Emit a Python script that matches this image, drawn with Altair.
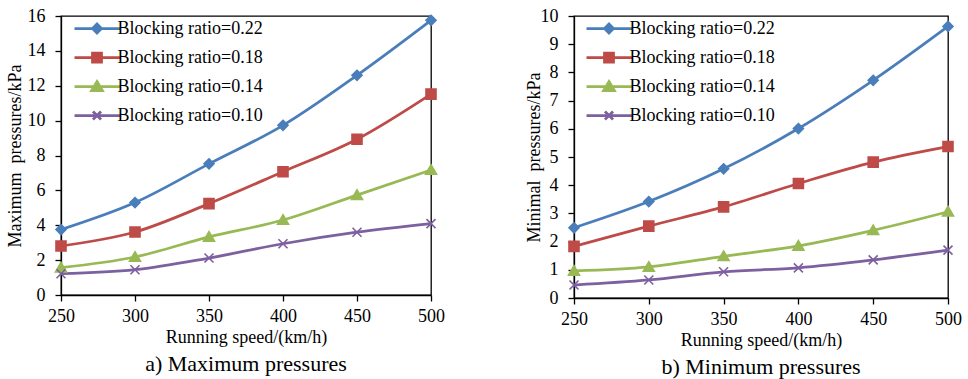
import altair as alt
import pandas as pd

speeds = [250, 300, 350, 400, 450, 500]
series = ["Blocking ratio=0.22", "Blocking ratio=0.18", "Blocking ratio=0.14", "Blocking ratio=0.10"]
colors = ["#4A7EBB", "#BE4B48", "#98B954", "#7D60A0"]

max_022 = [3.75, 5.30, 7.52, 9.73, 12.60, 15.75]
max_018 = [2.81, 3.61, 5.24, 7.07, 8.93, 11.52]
max_014 = [1.57, 2.18, 3.33, 4.30, 5.73, 7.17]
max_010 = [1.22, 1.45, 2.12, 2.94, 3.60, 4.09]

min_022 = [2.49, 3.42, 4.58, 6.01, 7.72, 9.63]
min_018 = [1.83, 2.55, 3.23, 4.06, 4.82, 5.37]
min_014 = [0.96, 1.10, 1.48, 1.85, 2.40, 3.06]
min_010 = [0.46, 0.64, 0.93, 1.07, 1.35, 1.70]

FONT = "Liberation Serif, Times New Roman, serif"

# marker shapes in the plot
plot_shapes = [
    "M0,-1L1,0L0,1L-1,0Z",
    "M-1,-1L1,-1L1,1L-1,1Z",
    "M0,-1.05L1.1,0.85L-1.1,0.85Z",
    "M-0.9,-0.9L0.9,0.9M-0.9,0.9L0.9,-0.9",
]
# legend symbols (unit = 9 px): a line with the marker in the middle
legend_shapes = [
    "M-2.5,0L2.55,0M0,-0.5L0.5,0L0,0.5L-0.5,0Z",
    "M-2.5,0L2.55,0M-0.5,-0.5L0.5,-0.5L0.5,0.5L-0.5,0.5Z",
    "M-2.5,0L2.55,0M0,-0.55L0.6,0.45L-0.6,0.45Z",
    "M-2.5,0L2.55,0M-0.45,-0.45L0.45,0.45M-0.45,0.45L0.45,-0.45",
]


def panel(values_list, ytitle, ymax, ystep, caption, title_x, legend_x, w, h):
    rows = []
    for name, vals in zip(series, values_list):
        for s, v in zip(speeds, vals):
            rows.append({"speed": s, "value": v, "series": name})
    df = pd.DataFrame(rows)
    base = alt.Chart(df)
    x = alt.X(
        "speed:Q",
        scale=alt.Scale(domain=[250, 500], nice=False, zero=False),
        axis=alt.Axis(values=speeds, title="Running speed/(km/h)", labelPadding=6,
                      titleY=33, format="d", labelFlush=False),
    )
    y = alt.Y(
        "value:Q",
        scale=alt.Scale(domain=[0, ymax], nice=False),
        axis=alt.Axis(values=list(range(0, ymax + 1, ystep)), title=ytitle,
                      titleX=title_x, labelPadding=10, labelFlush=False),
    )
    cscale = alt.Scale(domain=series, range=colors)
    lines = base.mark_line(interpolate="monotone", strokeWidth=2.75).encode(
        x=x, y=y, color=alt.Color("series:N", scale=cscale, legend=None),
        detail="series:N",
    )
    points = base.mark_point(filled=True, size=100, opacity=1, strokeWidth=1.6).encode(
        x=x, y=y,
        color=alt.Color("series:N", scale=cscale, legend=None),
        stroke=alt.Stroke("series:N", scale=cscale, legend=None),
        shape=alt.Shape("series:N", scale=alt.Scale(domain=series, range=plot_shapes), legend=None),
    )
    leg = base.transform_filter("false").mark_point(filled=True, opacity=1, strokeWidth=2.75).encode(
        x=x, y=y,
        color=alt.Color("series:N", scale=cscale,
                        legend=alt.Legend(title=None, orient="none", legendX=legend_x, legendY=2,
                                          symbolSize=324, symbolStrokeWidth=2.75)),
        stroke=alt.Stroke("series:N", scale=cscale),
        shape=alt.Shape("series:N", scale=alt.Scale(domain=series, range=legend_shapes)),
    )
    return alt.layer(lines, points, leg).resolve_scale(
        color="independent", stroke="independent", shape="independent"
    ).properties(
        width=w, height=h,
        title=alt.TitleParams(caption, orient="bottom", anchor="middle", font=FONT,
                              fontSize=22, fontWeight="normal", color="black", offset=8),
    )


left = panel([max_022, max_018, max_014, max_010], "Maximum\u00a0 pressures/kPa",
             16, 2, "a) Maximum pressures", -37, 12, 370, 279)
right = panel([min_022, min_018, min_014, min_010], "Minimal\u00a0 pressures/kPa",
              10, 1, "b) Minimum pressures", -31, 11, 374, 282)

chart = alt.hconcat(left, right, spacing=143, bounds="flush").resolve_scale(
    color="independent", stroke="independent", shape="independent"
).configure(
    padding={"left": 5, "top": 6, "right": 5, "bottom": 0},
    font=FONT,
    background="white",
).configure_view(
    stroke="black", strokeWidth=1.3
).configure_axis(
    grid=False,
    domainColor="black", domainWidth=1.3,
    tickColor="black", tickWidth=1.3, tickSize=6,
    labelColor="black", labelFont=FONT, labelFontSize=18,
    titleColor="black", titleFont=FONT, titleFontSize=18, titleFontWeight="normal",
).configure_legend(
    labelFont=FONT, labelFontSize=18, labelColor="black", padding=0,
    rowPadding=8, labelOffset=10, symbolOffset=13.5,
)

chart.save("out.html", embed_options={"renderer": "svg", "actions": False})
